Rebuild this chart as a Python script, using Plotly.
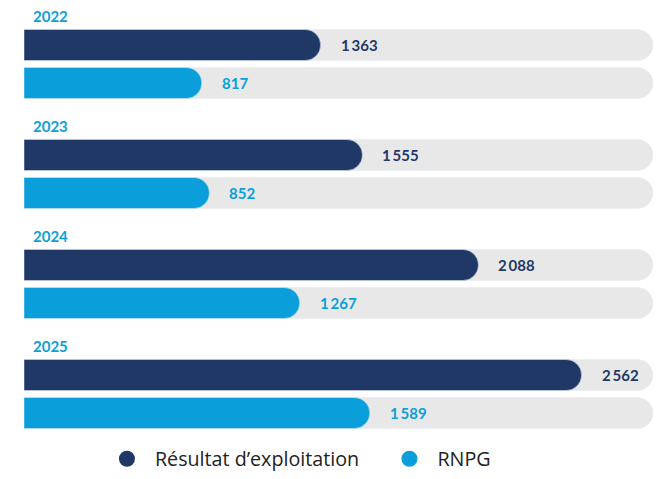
import plotly.graph_objects as go

years = ["2022", "2023", "2024", "2025"]
resultat = [1363, 1555, 2088, 2562]
rnpg = [817, 852, 1267, 1589]
track_max = 2890

NAVY = "#1f3866"
BLUE = "#0a9fdb"
TRACK = "#e8e8e8"
LABEL_FONT = "Lato"

WIDTH, HEIGHT = 645, 463
MARGIN = {"l": 16, "r": 0, "t": 1, "b": 32}
ROW_PX = 110  # vertical space given to each year
y_span = (HEIGHT - MARGIN["t"] - MARGIN["b"]) / ROW_PX


def fmt(v):
    return f"{v:,}".replace(",", "\u2009")


series = [
    ("Résultat d’exploitation", resultat, NAVY, 19, "legend"),
    ("RNPG", rnpg, BLUE, -19, "legend2"),
]

fig = go.Figure()
for name, values, color, shift, legend in series:
    # grey track behind each bar (bottom axis layer)
    fig.add_trace(
        go.Bar(
            y=years,
            x=[track_max] * len(years),
            orientation="h",
            marker={"color": TRACK},
            hoverinfo="skip",
            showlegend=False,
            yaxis="y",
        )
    )
    fig.add_trace(
        go.Bar(
            y=years,
            x=values,
            orientation="h",
            name=name,
            marker={"color": color},
            hovertemplate=f"<b>{name}</b><br>%{{y}} : %{{x:,}}<extra></extra>",
            showlegend=False,
            yaxis="y2",
        )
    )
    # legend entry drawn as a circle
    fig.add_trace(
        go.Scatter(
            x=[None],
            y=[None],
            mode="markers",
            name=name,
            legend=legend,
            marker={"color": color, "size": 16, "symbol": "circle"},
        )
    )
    for i, v in enumerate(values):
        fig.add_annotation(
            x=v,
            y=i,
            xref="x",
            yref="y",
            text=f"<b>{fmt(v)}</b>",
            showarrow=False,
            xanchor="left",
            yanchor="middle",
            xshift=18,
            yshift=shift,
            font={"family": LABEL_FONT, "size": 15, "color": color},
        )

for i, year in enumerate(years):
    fig.add_annotation(
        x=0,
        y=i,
        xref="x",
        yref="y",
        text=f"<b>{year}</b>",
        showarrow=False,
        xanchor="left",
        yanchor="middle",
        xshift=7,
        yshift=48,
        font={"family": LABEL_FONT, "size": 15, "color": BLUE},
    )

legend_style = {
    "orientation": "h",
    "xref": "container",
    "yref": "container",
    "xanchor": "left",
    "yanchor": "middle",
    "y": 0.026,
    "itemwidth": 46,
    "font": {"family": "Open Sans", "size": 19.7, "color": "#222222"},
    "bgcolor": "rgba(0,0,0,0)",
}

cat_axis = {
    "type": "category",
    "categoryorder": "array",
    "categoryarray": years,
    "range": [y_span - 0.5, -0.5],
    "showgrid": False,
    "zeroline": False,
    "showticklabels": False,
    "showline": False,
    "ticks": "",
    "fixedrange": True,
}

fig.update_layout(
    width=WIDTH,
    height=HEIGHT,
    barmode="group",
    bargap=0.309,
    bargroupgap=0.184,
    barcornerradius="50%",
    paper_bgcolor="white",
    plot_bgcolor="white",
    margin=MARGIN,
    legend={**legend_style, "x": 0.141},
    legend2={**legend_style, "x": 0.579},
    yaxis=cat_axis,
    yaxis2={**cat_axis, "overlaying": "y"},
    xaxis={
        "range": [0, track_max],
        "showgrid": False,
        "zeroline": False,
        "showticklabels": False,
        "showline": False,
        "ticks": "",
        "fixedrange": True,
    },
)

fig.write_html("out.html")
